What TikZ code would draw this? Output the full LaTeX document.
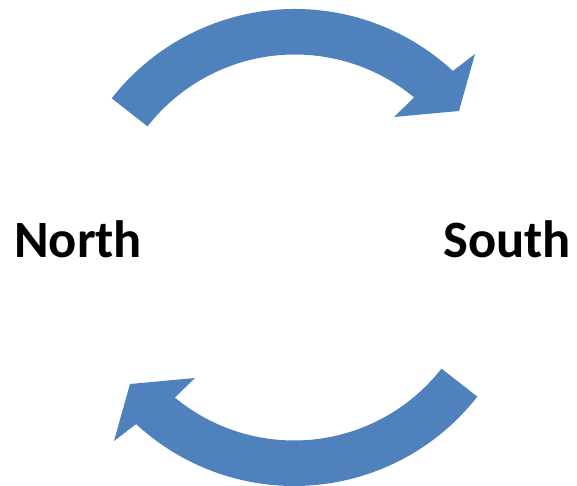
\documentclass[tikz,border=0pt]{standalone}
\usepackage{fontspec}
\setmainfont{Carlito}
\definecolor{arrowblue}{HTML}{4F81BD}
\tikzset{
  blockarrow/.style={fill=arrowblue, draw=none},
  label text/.style={font=\fontsize{52.5}{60}\selectfont\bfseries, inner sep=0pt, text=black}
}
\begin{document}
\begin{tikzpicture}[x=1pt,y=1pt]
\useasboundingbox (0,0) rectangle (577,486);
\newcommand{\arrowshape}{%
  ([shift={(294.9,244.5)}]142:232.5) arc[start angle=142, end angle=47.2, radius=232.5]
  -- (475,432) -- (459,375) -- (394,369)
  -- ([shift={(294.9,244.5)}]50.4:187) arc[start angle=50.4, end angle=142, radius=187] -- cycle}
\fill[blockarrow] \arrowshape;
\begin{scope}[rotate around={180:(294.5,238.5)}]
\fill[blockarrow] \arrowshape;
\end{scope}
\node[label text, anchor=base west] (north) at (14,228) {North};
\node[label text, anchor=base east] (south) at (571,228) {South};
\end{tikzpicture}
\end{document}
